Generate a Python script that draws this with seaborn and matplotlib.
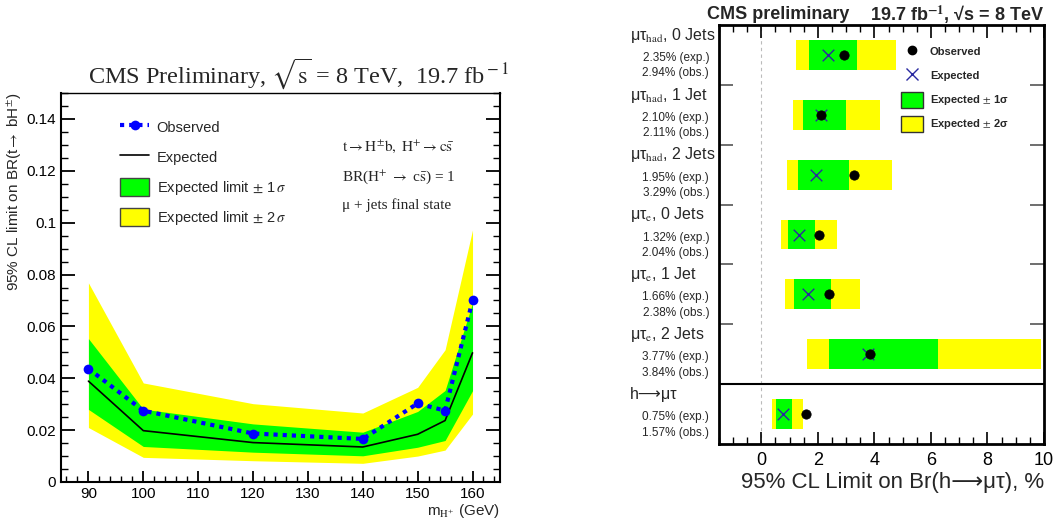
import numpy as np
import pandas as pd
import matplotlib
matplotlib.use('Agg')
import matplotlib.pyplot as plt
import matplotlib.transforms as mtransforms
from matplotlib.ticker import MultipleLocator, FuncFormatter
from matplotlib.lines import Line2D
from matplotlib.patches import Patch
import seaborn as sns

sns.set_style('ticks')
plt.rcParams['font.family'] = ['Liberation Sans', 'DejaVu Sans']
plt.rcParams['mathtext.fontset'] = 'stix'
plt.rcParams['xtick.direction'] = 'in'
plt.rcParams['ytick.direction'] = 'in'
plt.rcParams['axes.edgecolor'] = 'black'
plt.rcParams['xtick.color'] = 'black'
plt.rcParams['ytick.color'] = 'black'

# left: charged Higgs limits vs mass
mass = [90, 100, 120, 140, 150, 155, 160]
obs_limit = [0.0437, 0.0275, 0.0187, 0.0166, 0.0303, 0.0275, 0.0700]
exp_limit = [0.0389, 0.0198, 0.0152, 0.0135, 0.0184, 0.0237, 0.0498]
exp_minus1 = [0.0280, 0.0137, 0.0115, 0.0101, 0.0134, 0.0160, 0.0352]
exp_plus1 = [0.0553, 0.0281, 0.0224, 0.0192, 0.0272, 0.0353, 0.0690]
exp_minus2 = [0.0210, 0.0095, 0.0082, 0.0072, 0.0100, 0.0123, 0.0262]
exp_plus2 = [0.0768, 0.0382, 0.0302, 0.0266, 0.0365, 0.0510, 0.0972]

# right: h -> mu tau limits per channel (%)
channels = ['μτ$_{\\rm had}$, 0 Jets', 'μτ$_{\\rm had}$, 1 Jet', 'μτ$_{\\rm had}$, 2 Jets',
            'μτ$_{\\rm e}$, 0 Jets', 'μτ$_{\\rm e}$, 1 Jet', 'μτ$_{\\rm e}$, 2 Jets',
            'h⟶μτ']
exp_pct = [2.35, 2.10, 1.95, 1.32, 1.66, 3.77, 0.75]
obs_pct = [2.94, 2.11, 3.29, 2.04, 2.38, 3.84, 1.57]
band1_lo = [1.67, 1.49, 1.31, 0.96, 1.17, 2.41, 0.53]
band1_hi = [3.40, 3.01, 3.09, 1.91, 2.45, 6.24, 1.10]
band2_lo = [1.24, 1.13, 0.92, 0.71, 0.85, 1.63, 0.39]
band2_hi = [4.75, 4.21, 4.61, 2.66, 3.48, 9.89, 1.49]

GREEN = '#00ff00'
YELLOW = '#ffff00'

fig = plt.figure(figsize=(10.57, 5.19), dpi=100)
ax1 = fig.add_axes([0.0577, 0.0713, 0.4153, 0.7495])
ax2 = fig.add_axes([0.6802, 0.1445, 0.3075, 0.8073])

# ---------- left panel ----------
df = pd.DataFrame({'mass': mass, 'obs': obs_limit, 'exp': exp_limit})
ax1.fill_between(mass, exp_minus2, exp_plus2, color=YELLOW, lw=0)
ax1.fill_between(mass, exp_minus1, exp_plus1, color=GREEN, lw=0)
sns.lineplot(data=df, x='mass', y='exp', color='black', lw=1.2, ax=ax1)
sns.lineplot(data=df, x='mass', y='obs', color='#0000ff', lw=3, ls=(0, (1, 1.2)),
             marker='o', markersize=7, markeredgewidth=0, ax=ax1)

ax1.set_xlim(85, 165)
ax1.set_ylim(0, 0.15)
ax1.xaxis.set_major_locator(MultipleLocator(10))
ax1.xaxis.set_minor_locator(MultipleLocator(2))
ax1.yaxis.set_major_locator(MultipleLocator(0.02))
ax1.yaxis.set_minor_locator(MultipleLocator(0.005))
ax1.yaxis.set_major_formatter(FuncFormatter(lambda v, p: '%g' % round(v, 3)))
ax1.tick_params(axis='y', which='both', left=True, right=True, labelsize=11)
ax1.tick_params(axis='x', which='both', bottom=True, top=False, labelsize=11)
ax1.tick_params(axis='y', which='major', length=10, width=1.3)
ax1.tick_params(axis='y', which='minor', length=5, width=1)
ax1.tick_params(axis='x', which='major', length=8, width=1.3)
ax1.tick_params(axis='x', which='minor', length=4, width=1)
for s in ax1.spines.values():
    s.set_linewidth(1.5)
ax1.spines['top'].set_linewidth(1)
ax1.set_xlabel(r'm$_{\rm H^{+}}$ (GeV)', loc='right', fontsize=11, labelpad=1)
ax1.set_ylabel(r'95% CL limit on BR(t$\rightarrow$ bH$^{\pm}$)', loc='top', fontsize=11, labelpad=2)

leg1_handles = [
    Line2D([], [], color='#0000ff', lw=3, ls=(0, (1, 1.2)), marker='o', markersize=7, markeredgewidth=0),
    Line2D([], [], color='black', lw=1.2),
    Patch(facecolor=GREEN, edgecolor='#444444', lw=1),
    Patch(facecolor=YELLOW, edgecolor='#444444', lw=1),
]
leg1_labels = ['Observed', 'Expected', r'Expected limit $\pm$ 1$\,\sigma$', r'Expected limit $\pm$ 2$\,\sigma$']
ax1.legend(leg1_handles, leg1_labels, loc='upper left', bbox_to_anchor=(0.135, 0.935),
           frameon=False, fontsize=10.5, handlelength=2.0, handleheight=1.6,
           labelspacing=0.75, borderpad=0, borderaxespad=0, handletextpad=0.5)

serif = ['Liberation Serif', 'DejaVu Serif']
ax1.text(0.64, 0.861, r'$\mathrm{t \rightarrow H^{\pm}b,\ H^{+} \rightarrow c\bar{s}}$',
         transform=ax1.transAxes, fontsize=11, va='center', family=serif)
ax1.text(0.64, 0.784, r'BR(H$^{+}$ $\rightarrow$ c$\bar{\rm s}$) = 1',
         transform=ax1.transAxes, fontsize=11, va='center', family=serif)
ax1.text(0.64, 0.712, 'μ + jets final state',
         transform=ax1.transAxes, fontsize=11, va='center', family=serif)

fig.text(0.283, 0.858, r'CMS Preliminary, $\sqrt{\rm s}$ = 8 TeV,  19.7 fb$^{\rm -1}$',
         ha='center', va='center', fontsize=17.5, family=serif)

# ---------- right panel ----------
rows = np.arange(len(channels))
ax2.barh(rows, np.array(band2_hi) - np.array(band2_lo), left=band2_lo, height=0.5,
         color=YELLOW, lw=0)
ax2.barh(rows, np.array(band1_hi) - np.array(band1_lo), left=band1_lo, height=0.5,
         color=GREEN, lw=0)
pts = pd.DataFrame({'row': rows, 'exp': exp_pct, 'obs': obs_pct})
sns.scatterplot(data=pts, x='exp', y='row', marker='x', color='#2a2aa0', s=70,
                linewidth=1.0, ax=ax2, zorder=4)
sns.scatterplot(data=pts, x='obs', y='row', marker='o', color='black', s=45,
                edgecolor='black', ax=ax2, zorder=5)
ax2.axvline(0, color='#bbbbbb', lw=0.8, ls=(0, (3, 3)), zorder=0)
ax2.axhline(5.5, color='black', lw=1.5)

ax2.set_xlim(-1.5, 10)
ax2.set_ylim(6.5, -0.5)
ax2.xaxis.set_major_locator(MultipleLocator(2))
ax2.xaxis.set_minor_locator(MultipleLocator(0.5))
ax2.set_yticks(np.arange(0.5, 5.0, 1.0))
ax2.set_yticklabels([])
ax2.tick_params(axis='x', which='both', top=True, bottom=True, labelsize=13, pad=6)
ax2.tick_params(axis='x', which='major', length=9, width=1.2)
ax2.tick_params(axis='x', which='minor', length=5, width=1)
ax2.tick_params(axis='y', which='major', left=True, right=True, length=10, width=1.2, color='#555555')
for s in ax2.spines.values():
    s.set_linewidth(2)
ax2.set_xlabel('95% CL Limit on Br(h⟶μτ), %', loc='right', fontsize=16, labelpad=2)
ax2.set_ylabel('')

blend = mtransforms.blended_transform_factory(ax2.transAxes, ax2.transData)
for i, name in enumerate(channels):
    ax2.text(-0.275, i - 0.33, name, transform=blend, ha='left', va='center', fontsize=11.5)
    ax2.text(-0.03, i + 0.05, '%.2f%% (exp.)' % exp_pct[i], transform=blend,
             ha='right', va='center', fontsize=8.5)
    ax2.text(-0.03, i + 0.31, '%.2f%% (obs.)' % obs_pct[i], transform=blend,
             ha='right', va='center', fontsize=8.5)

leg2_handles = [
    Line2D([], [], color='black', ls='none', marker='o', markersize=6),
    Line2D([], [], color='#2a2aa0', ls='none', marker='x', markersize=8, markeredgewidth=1),
    Patch(facecolor=GREEN, edgecolor='#333333', lw=1),
    Patch(facecolor=YELLOW, edgecolor='#333333', lw=1),
]
leg2_labels = ['Observed', 'Expected', r'Expected $\pm$ 1σ', r'Expected $\pm$ 2σ']
ax2.legend(leg2_handles, leg2_labels, loc='upper left', bbox_to_anchor=(0.56, 0.955),
           frameon=False, prop={'weight': 'bold', 'size': 8}, handlelength=2.0,
           handleheight=1.8, labelspacing=0.75, borderpad=0, borderaxespad=0,
           handletextpad=0.6)

fig.text(0.669, 0.972, 'CMS preliminary', ha='left', va='center', fontsize=13, weight='bold')
fig.text(0.988, 0.972, '19.7 fb$^{\\mathbf{-1}}$, √s = 8 TeV', ha='right',
         va='center', fontsize=13, weight='bold')

fig.savefig('out.png', dpi=100)
